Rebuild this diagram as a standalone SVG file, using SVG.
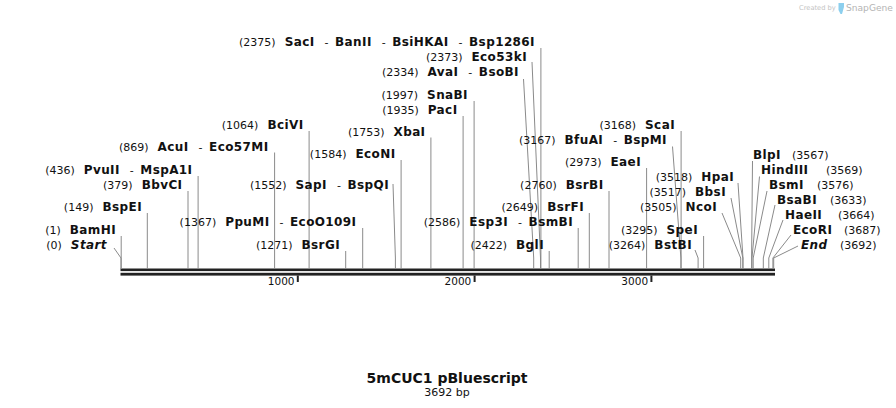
<svg xmlns="http://www.w3.org/2000/svg" width="896" height="408" viewBox="0 0 896 408">
<style>
.t{font-family:"DejaVu Sans",Verdana,sans-serif;font-size:11px;fill:#111}
.e{text-anchor:end}
.b{font-weight:bold;font-size:12px;letter-spacing:0.4px}
.bi{font-weight:bold;font-style:italic;font-size:12px;letter-spacing:0.4px}
.ln{fill:none;stroke:#8a8a8a;stroke-width:1}
.bb{fill:#222}
.tk{font-family:"DejaVu Sans",Verdana,sans-serif;font-size:10.5px;fill:#111;text-anchor:end}
</style>
<rect width="896" height="408" fill="#fff"/>
<g id="watermark">
<text x="799" y="10" style="font-family:'DejaVu Sans',sans-serif;font-size:6.7px;fill:#c4c4c4">Created by</text>
<path d="M838.5,3 h5.5 v4 l-2,7 h-1.5 l-2,-4 z" fill="#8ccfee"/>
<text x="846" y="11" style="font-family:'DejaVu Sans',sans-serif;font-size:9.1px;fill:#b4b4b4">SnapGene</text>
</g>
<g id="backbone">
<rect class="bb" x="120.5" y="268.5" width="654.5" height="2.6"/>
<rect class="bb" x="120.5" y="272.8" width="654.5" height="2.8"/>
<rect class="bb" x="296.8" y="275.5" width="2" height="6.5"/>
<rect class="bb" x="473.6" y="275.5" width="2" height="6.5"/>
<rect class="bb" x="650.4" y="275.5" width="2" height="6.5"/>
<text class="tk" x="294.5" y="285">1000</text>
<text class="tk" x="471.3" y="285">2000</text>
<text class="tk" x="648.1" y="285">3000</text>
</g>
<g id="connectors">
<polyline class="ln" points="540.9,48 540.9,269"/>
<polyline class="ln" points="532,62 540.5,258 540.5,269"/>
<polyline class="ln" points="523.5,79 533.7,258 533.7,269"/>
<polyline class="ln" points="474.1,101 474.1,269"/>
<polyline class="ln" points="463.1,116 463.1,269"/>
<polyline class="ln" points="430.9,137.5 430.9,269"/>
<polyline class="ln" points="401.1,160 401.1,269"/>
<polyline class="ln" points="393,184 395.4,258 395.4,269"/>
<polyline class="ln" points="362.7,228 362.7,269"/>
<polyline class="ln" points="345.7,251 345.7,269"/>
<polyline class="ln" points="309.1,131 309.1,269"/>
<polyline class="ln" points="274.6,152.5 274.6,269"/>
<polyline class="ln" points="198.1,176 198.1,269"/>
<polyline class="ln" points="188,191 188,269"/>
<polyline class="ln" points="147.3,213 147.3,269"/>
<polyline class="ln" points="121.2,236 121.2,269"/>
<polyline class="ln" points="114,248 121,258 121,269"/>
<polyline class="ln" points="681.1,131 681.1,269"/>
<polyline class="ln" points="672.5,146.5 680.9,258 680.9,269"/>
<polyline class="ln" points="646.6,168 646.6,269"/>
<polyline class="ln" points="609,191 609,269"/>
<polyline class="ln" points="589.3,213 589.3,269"/>
<polyline class="ln" points="578.2,228 578.2,269"/>
<polyline class="ln" points="549.2,251 549.2,269"/>
<polyline class="ln" points="738,183 743,258 743,269"/>
<polyline class="ln" points="731,198 742.8,258 742.8,269"/>
<polyline class="ln" points="722,213 740.7,258 740.7,269"/>
<polyline class="ln" points="703.6,236 703.6,269"/>
<polyline class="ln" points="695,250 698.1,258 698.1,269"/>
<polyline class="ln" points="752.5,161 751.6,258 751.6,269"/>
<polyline class="ln" points="759.5,176.5 752,258 752,269"/>
<polyline class="ln" points="767,191 753.2,258 753.2,269"/>
<polyline class="ln" points="775,205 763.3,258 763.3,269"/>
<polyline class="ln" points="783,220 768.8,258 768.8,269"/>
<polyline class="ln" points="791,235 772.9,258 772.9,269"/>
<polyline class="ln" points="798,246 773.7,258 773.7,269"/>
</g>
<g id="n2375"><text class="t e" x="535" y="46">(2375)<tspan class="b" dx="9">SacI</tspan><tspan dx="10">-</tspan><tspan class="b" dx="6.5">BanII</tspan><tspan dx="10">-</tspan><tspan class="b" dx="6.5">BsiHKAI</tspan><tspan dx="10">-</tspan><tspan class="b" dx="6.5">Bsp1286I</tspan></text></g>
<g id="n2373"><text class="t e" x="527" y="61">(2373)<tspan class="b" dx="9">Eco53kI</tspan></text></g>
<g id="n2334"><text class="t e" x="519" y="76">(2334)<tspan class="b" dx="9">AvaI</tspan><tspan dx="10">-</tspan><tspan class="b" dx="6.5">BsoBI</tspan></text></g>
<g id="n1997"><text class="t e" x="468" y="99">(1997)<tspan class="b" dx="9">SnaBI</tspan></text></g>
<g id="n1935"><text class="t e" x="457.5" y="114">(1935)<tspan class="b" dx="9">PacI</tspan></text></g>
<g id="n1753"><text class="t e" x="425.5" y="135.5">(1753)<tspan class="b" dx="9">XbaI</tspan></text></g>
<g id="n1584"><text class="t e" x="395.5" y="158">(1584)<tspan class="b" dx="9">EcoNI</tspan></text></g>
<g id="n1552"><text class="t e" x="389" y="189">(1552)<tspan class="b" dx="9">SapI</tspan><tspan dx="10">-</tspan><tspan class="b" dx="6.5">BspQI</tspan></text></g>
<g id="n1367"><text class="t e" x="356.5" y="226">(1367)<tspan class="b" dx="9">PpuMI</tspan><tspan dx="10">-</tspan><tspan class="b" dx="6.5">EcoO109I</tspan></text></g>
<g id="n1271"><text class="t e" x="340" y="249">(1271)<tspan class="b" dx="9">BsrGI</tspan></text></g>
<g id="n1064"><text class="t e" x="303.5" y="129">(1064)<tspan class="b" dx="9">BciVI</tspan></text></g>
<g id="n869"><text class="t e" x="268.5" y="150.5">(869)<tspan class="b" dx="9">AcuI</tspan><tspan dx="10">-</tspan><tspan class="b" dx="6.5">Eco57MI</tspan></text></g>
<g id="n436"><text class="t e" x="192.5" y="174">(436)<tspan class="b" dx="9">PvuII</tspan><tspan dx="10">-</tspan><tspan class="b" dx="6.5">MspA1I</tspan></text></g>
<g id="n379"><text class="t e" x="182.5" y="189">(379)<tspan class="b" dx="9">BbvCI</tspan></text></g>
<g id="n149"><text class="t e" x="142" y="211">(149)<tspan class="b" dx="9">BspEI</tspan></text></g>
<g id="n1"><text class="t e" x="116" y="234">(1)<tspan class="b" dx="9">BamHI</tspan></text></g>
<g id="n0"><text class="t e" x="107" y="249">(0)<tspan class="bi" dx="9">Start</tspan></text></g>
<g id="n3168"><text class="t e" x="675" y="129">(3168)<tspan class="b" dx="9">ScaI</tspan></text></g>
<g id="n3167"><text class="t e" x="667" y="144">(3167)<tspan class="b" dx="9">BfuAI</tspan><tspan dx="10">-</tspan><tspan class="b" dx="6.5">BspMI</tspan></text></g>
<g id="n2973"><text class="t e" x="641" y="166">(2973)<tspan class="b" dx="9">EaeI</tspan></text></g>
<g id="n2760"><text class="t e" x="603.5" y="189">(2760)<tspan class="b" dx="9">BsrBI</tspan></text></g>
<g id="n2649"><text class="t e" x="584" y="211">(2649)<tspan class="b" dx="9">BsrFI</tspan></text></g>
<g id="n2586"><text class="t e" x="573" y="226">(2586)<tspan class="b" dx="9">Esp3I</tspan><tspan dx="10">-</tspan><tspan class="b" dx="6.5">BsmBI</tspan></text></g>
<g id="n2422"><text class="t e" x="544" y="249">(2422)<tspan class="b" dx="9">BglI</tspan></text></g>
<g id="n3518"><text class="t e" x="734" y="181">(3518)<tspan class="b" dx="9">HpaI</tspan></text></g>
<g id="n3517"><text class="t e" x="726" y="196">(3517)<tspan class="b" dx="9">BbsI</tspan></text></g>
<g id="n3505"><text class="t e" x="717" y="211">(3505)<tspan class="b" dx="9">NcoI</tspan></text></g>
<g id="n3295"><text class="t e" x="698" y="234">(3295)<tspan class="b" dx="9">SpeI</tspan></text></g>
<g id="n3264"><text class="t e" x="692" y="249">(3264)<tspan class="b" dx="9">BstBI</tspan></text></g>
<g id="n3567"><text class="t" y="159"><tspan class="b" x="753">BlpI</tspan><tspan x="792">(3567)</tspan></text></g>
<g id="n3569"><text class="t" y="174"><tspan class="b" x="761">HindIII</tspan><tspan x="826">(3569)</tspan></text></g>
<g id="n3576"><text class="t" y="189"><tspan class="b" x="769">BsmI</tspan><tspan x="817">(3576)</tspan></text></g>
<g id="n3633"><text class="t" y="204"><tspan class="b" x="777">BsaBI</tspan><tspan x="830">(3633)</tspan></text></g>
<g id="n3664"><text class="t" y="219"><tspan class="b" x="785">HaeII</tspan><tspan x="838">(3664)</tspan></text></g>
<g id="n3687"><text class="t" y="234"><tspan class="b" x="793">EcoRI</tspan><tspan x="844">(3687)</tspan></text></g>
<g id="n3692"><text class="t" y="249"><tspan class="bi" x="801">End</tspan><tspan x="840">(3692)</tspan></text></g>
<g id="title">
<text x="447" y="383" style="font-family:'DejaVu Sans',Verdana,sans-serif;font-size:14px;font-weight:bold;fill:#111;text-anchor:middle">5mCUC1 pBluescript</text>
<text x="447" y="396" style="font-family:'DejaVu Sans',Verdana,sans-serif;font-size:11px;fill:#111;text-anchor:middle">3692 bp</text>
</g>
</svg>
